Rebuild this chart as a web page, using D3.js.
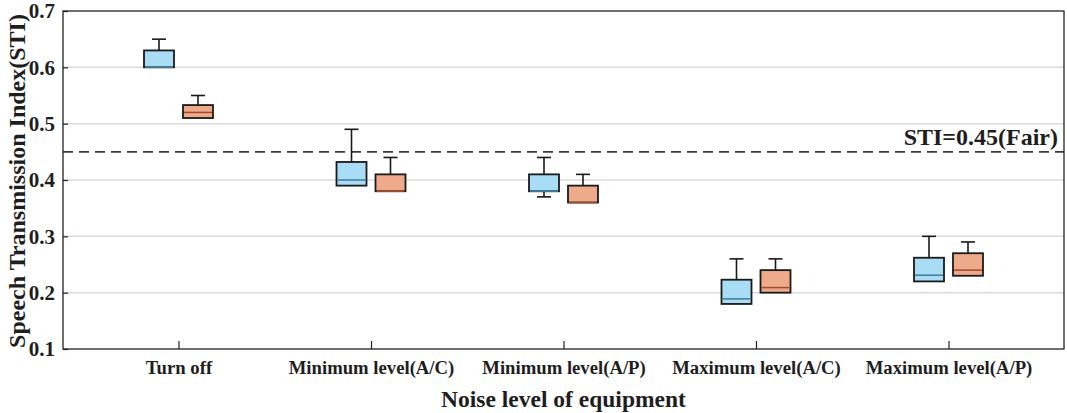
<!DOCTYPE html>
<html>
<head>
<meta charset="utf-8">
<script src="https://cdn.jsdelivr.net/npm/d3@7"></script>
<style>
  body { margin: 0; background: #fff; }
  text { font-family: "Liberation Serif", "Times New Roman", serif; font-weight: bold; fill: #1e1e1e; }
</style>
</head>
<body>
<svg id="chart"></svg>
<script>
// categories and box stats
const categories = ["Turn off", "Minimum level(A/C)", "Minimum level(A/P)", "Maximum level(A/C)", "Maximum level(A/P)"];
// [min, q1, median, q3, max]
const boxesA = [
  [0.60, 0.60, 0.60, 0.63, 0.65],
  [0.39, 0.39, 0.40, 0.432, 0.49],
  [0.37, 0.38, 0.38, 0.41, 0.44],
  [0.18, 0.18, 0.189, 0.223, 0.26],
  [0.22, 0.22, 0.231, 0.262, 0.30]
];
const boxesB = [
  [0.51, 0.51, 0.52, 0.533, 0.55],
  [0.38, 0.38, 0.38, 0.41, 0.44],
  [0.36, 0.36, 0.36, 0.39, 0.41],
  [0.20, 0.20, 0.209, 0.24, 0.26],
  [0.23, 0.23, 0.24, 0.27, 0.29]
];
const yTicks = [0.1, 0.2, 0.3, 0.4, 0.5, 0.6, 0.7];
const gridValues = [0.2, 0.3, 0.4, 0.5, 0.6];
const refValue = 0.45;
const refLabel = "STI=0.45(Fair)";

const W = 1067, H = 413;
const margin = { top: 11, right: 3, bottom: 64, left: 63 };
const width = W - margin.left - margin.right;
const height = H - margin.top - margin.bottom;

const svg = d3.select("#chart").attr("width", W).attr("height", H);
const g = svg.append("g").attr("transform", `translate(${margin.left},${margin.top})`);

const x = d3.scalePoint().domain(categories).range([0, width]).padding(0.6);
const y = d3.scaleLinear().domain([0.1, 0.7]).range([height, 0]);

const fill = { A: "#a8ddf5", B: "#eeab8c" };
const medColor = { A: "#3d7d93", B: "#a34a2c" };
const offset = { A: -19.5, B: 19.5 };
const boxW = 30, capW = 14;

// grid
g.selectAll(".grid").data(gridValues).enter().append("line")
  .attr("x1", 0).attr("x2", width)
  .attr("y1", d => y(d)).attr("y2", d => y(d))
  .attr("stroke", "#dadada").attr("stroke-width", 1.5);

// reference line
g.append("line")
  .attr("x1", 0).attr("x2", width)
  .attr("y1", y(refValue)).attr("y2", y(refValue))
  .attr("stroke", "#3a3a3a").attr("stroke-width", 1.8)
  .attr("stroke-dasharray", "10,6");
g.append("text")
  .attr("x", width - 6).attr("y", y(refValue) - 7)
  .attr("text-anchor", "end")
  .style("font-size", "24px")
  .text(refLabel);

// boxes
const rows = [];
categories.forEach((c, i) => {
  rows.push({ cat: c, key: "A", s: boxesA[i] });
  rows.push({ cat: c, key: "B", s: boxesB[i] });
});

const box = g.selectAll(".box").data(rows).enter().append("g")
  .attr("transform", d => `translate(${x(d.cat) + offset[d.key]},0)`);

// upper whisker
box.filter(d => d.s[4] > d.s[3]).append("line")
  .attr("x1", 0).attr("x2", 0)
  .attr("y1", d => y(d.s[3])).attr("y2", d => y(d.s[4]))
  .attr("stroke", "#1a1a1a").attr("stroke-width", 1.6);
box.filter(d => d.s[4] > d.s[3]).append("line")
  .attr("x1", -capW / 2).attr("x2", capW / 2)
  .attr("y1", d => y(d.s[4])).attr("y2", d => y(d.s[4]))
  .attr("stroke", "#1a1a1a").attr("stroke-width", 1.6);
// lower whisker
box.filter(d => d.s[0] < d.s[1]).append("line")
  .attr("x1", 0).attr("x2", 0)
  .attr("y1", d => y(d.s[1])).attr("y2", d => y(d.s[0]))
  .attr("stroke", "#1a1a1a").attr("stroke-width", 1.6);
box.filter(d => d.s[0] < d.s[1]).append("line")
  .attr("x1", -capW / 2).attr("x2", capW / 2)
  .attr("y1", d => y(d.s[0])).attr("y2", d => y(d.s[0]))
  .attr("stroke", "#1a1a1a").attr("stroke-width", 1.6);

box.append("rect")
  .attr("x", -boxW / 2).attr("width", boxW)
  .attr("y", d => y(d.s[3]))
  .attr("height", d => y(d.s[1]) - y(d.s[3]))
  .attr("fill", d => fill[d.key])
  .attr("stroke", "#1a1a1a").attr("stroke-width", 1.8);
box.append("line")
  .attr("x1", -boxW / 2 + 1).attr("x2", boxW / 2 - 1)
  .attr("y1", d => y(d.s[2])).attr("y2", d => y(d.s[2]))
  .attr("stroke", d => medColor[d.key]).attr("stroke-width", 1.5);

// axes
const yAxis = g.append("g")
  .call(d3.axisLeft(y).tickValues(yTicks).tickFormat(d3.format(".1f")).tickSizeInner(-5).tickSizeOuter(0).tickPadding(8));
yAxis.select(".domain").remove();
yAxis.selectAll("line").attr("stroke", "#222").attr("stroke-width", 1.2);
yAxis.selectAll("text").style("font-size", "21px").style("font-family", "Liberation Serif").style("font-weight", "bold").attr("fill", "#1e1e1e");

const xAxis = g.append("g").attr("transform", `translate(0,${height})`)
  .call(d3.axisBottom(x).tickSizeInner(-8).tickSizeOuter(0).tickPadding(12));
xAxis.select(".domain").remove();
xAxis.selectAll("line").attr("stroke", "#222").attr("stroke-width", 1.2);
xAxis.selectAll("text").style("font-size", "18.7px").style("font-family", "Liberation Serif").style("font-weight", "bold").attr("fill", "#1e1e1e");

// frame
g.append("rect")
  .attr("x", 0).attr("y", 0).attr("width", width).attr("height", height)
  .attr("fill", "none").attr("stroke", "#222").attr("stroke-width", 1.3);

// titles
svg.append("text")
  .attr("x", margin.left + width / 2).attr("y", 407)
  .attr("text-anchor", "middle")
  .style("font-size", "23.5px")
  .text("Noise level of equipment");
svg.append("text")
  .attr("transform", `translate(25,${margin.top + height / 2 + 1}) rotate(-90)`)
  .attr("text-anchor", "middle")
  .style("font-size", "24px")
  .text("Speech Transmission Index(STI)");
</script>
</body>
</html>
